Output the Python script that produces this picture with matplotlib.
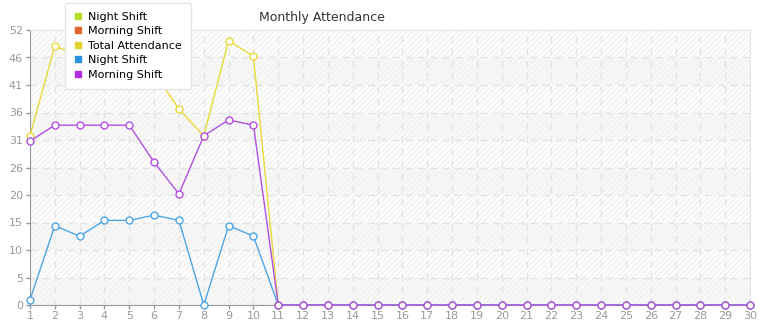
import matplotlib
matplotlib.use("Agg")
import matplotlib.pyplot as plt
from matplotlib.lines import Line2D
import numpy as np

days = list(range(1, 31))
morning = [31, 34, 34, 34, 34, 27, 21, 32, 35, 34] + [0] * 20
night = [1, 15, 13, 16, 16, 17, 16, 0, 15, 13] + [0] * 20
total = [m + n for m, n in zip(morning, night)]
y_ticks = [i * 5.2 for i in range(11)]
y_labels = [str(int(v)) for v in y_ticks]
legend_labels = ["Night Shift", "Morning Shift", "Total Attendance", "Night Shift", "Morning Shift"]
legend_colors = ["#b5df2c", "#e0642c", "#e0d42c", "#2c92e0", "#b02ce0"]

plt.rcParams["hatch.linewidth"] = 0.8
fig = plt.figure(figsize=(7.65, 3.2), dpi=100)
ax = fig.add_axes([30 / 765, 15 / 320, 720 / 765, 275 / 320])

# alternating hatched bands
for i in range(10):
    fc = "#fdfdfd" if i % 2 == 1 else "#f8f8f8"
    ax.axhspan(y_ticks[i], y_ticks[i + 1], facecolor=fc, edgecolor="#f0f0f0",
               hatch="//////", linewidth=0, zorder=0)

ax.grid(True, color="#e4e4e4", linestyle=(0, (5, 4)), linewidth=1, zorder=1)

mk = dict(marker="o", markersize=5, markerfacecolor="white", markeredgewidth=1.0,
          linewidth=1.0, zorder=3, clip_on=False)
ax.plot(days, total, color="#e8da3a", **mk)
ax.plot(days, night, color="#4ea6e6", **mk)
ax.plot(days, morning, color="#b050e0", **mk)

ax.set_xlim(1, 30)
ax.set_ylim(0, 52)
ax.set_xticks(days)
ax.set_xticklabels([str(d) for d in days])
ax.set_yticks(y_ticks)
ax.set_yticklabels(y_labels)
ax.tick_params(axis="both", colors="#999999", labelsize=8, length=3, width=1)
ax.tick_params(axis="x", pad=1)
ax.tick_params(axis="y", pad=2)
for side in ["top", "right"]:
    ax.spines[side].set_color("#e6e6e6")
for side in ["left", "bottom"]:
    ax.spines[side].set_color("#999999")

fig.text(322 / 765, 1 - 17 / 320, "Monthly Attendance", ha="center", va="center",
         fontsize=9, color="#333333")

handles = [Line2D([], [], linestyle="none", marker="s", markersize=4.5,
                  markerfacecolor=c, markeredgecolor=c) for c in legend_colors]
leg = fig.legend(handles, legend_labels, loc="upper left",
                 bbox_to_anchor=(65 / 765, 1 - 3 / 320), borderaxespad=0,
                 fontsize=8, frameon=True, fancybox=True, shadow=False,
                 handlelength=0.8, handletextpad=0.5, labelspacing=0.4,
                 borderpad=0.8, edgecolor="#e6e6e6", facecolor="white",
                 framealpha=1.0)
leg.set_zorder(10)

fig.savefig("out.png", dpi=100)
